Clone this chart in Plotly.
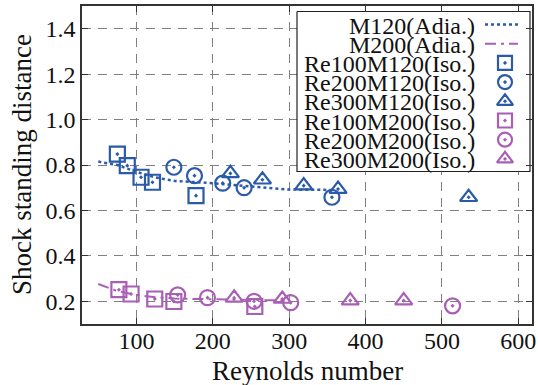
import plotly.graph_objects as go

BLUE = "#2a5aa8"
PURP = "#a95fb5"
FONT = "Liberation Serif, Times New Roman, serif"

# Adiabatic reference curves
m120_x = [50, 75, 100, 125, 150, 200, 250, 300, 360]
m120_y = [0.815, 0.80, 0.77, 0.745, 0.73, 0.72, 0.705, 0.692, 0.69]
m200_x = [50, 75, 100, 125, 150, 200, 250, 300]
m200_y = [0.276, 0.245, 0.228, 0.218, 0.212, 0.208, 0.205, 0.203]

# Isothermal cases
re100m120_x = [75, 88, 106, 121, 178]
re100m120_y = [0.848, 0.797, 0.746, 0.724, 0.665]
re200m120_x = [149, 176, 213, 241, 356]
re200m120_y = [0.79, 0.753, 0.72, 0.70, 0.658]
re300m120_x = [223, 265, 319, 364, 535]
re300m120_y = [0.763, 0.735, 0.709, 0.694, 0.658]

re100m200_x = [77, 93, 124, 149, 255]
re100m200_y = [0.251, 0.232, 0.21, 0.199, 0.177]
re200m200_x = [154, 193, 254, 302, 514]
re200m200_y = [0.228, 0.216, 0.20, 0.194, 0.18]
re300m200_x = [228, 291, 380, 450]
re300m200_y = [0.215, 0.21, 0.203, 0.203]

x_ticks = [100, 200, 300, 400, 500, 600]
y_ticks = [0.2, 0.4, 0.6, 0.8, 1.0, 1.2, 1.4]

x_title = "Reynolds number"
y_title = "Shock standing distance"
legend_names = ["M120(Adia.)", "M200(Adia.)", "Re100M120(Iso.)", "Re200M120(Iso.)",
                "Re300M120(Iso.)", "Re100M200(Iso.)", "Re200M200(Iso.)", "Re300M200(Iso.)"]

XR = [28.7, 618]
YR = [0.1, 1.5]
L, R, T, B = 82, 532, 6, 324


def px2x(p):
    return XR[0] + (p - L) * (XR[1] - XR[0]) / (R - L)


def py2y(p):
    return YR[1] - (p - T) * (YR[1] - YR[0]) / (B - T)


fig = go.Figure()

DASHDOT = "11px,5px,3px,5px"
fig.add_trace(go.Scatter(x=m120_x, y=m120_y, mode="lines",
                         line=dict(color=BLUE, width=2.5, dash="dot"), showlegend=False))
fig.add_trace(go.Scatter(x=m200_x, y=m200_y, mode="lines",
                         line=dict(color=PURP, width=2, dash=DASHDOT), showlegend=False))

series = [
    (re100m120_x, re100m120_y, "square-open-dot", BLUE),
    (re200m120_x, re200m120_y, "circle-open-dot", BLUE),
    (re300m120_x, re300m120_y, "triangle-up-open-dot", BLUE),
    (re100m200_x, re100m200_y, "square-open-dot", PURP),
    (re200m200_x, re200m200_y, "circle-open-dot", PURP),
    (re300m200_x, re300m200_y, "triangle-up-open-dot", PURP),
]
for xs, ys, sym, col in series:
    fig.add_trace(go.Scatter(x=xs, y=ys, mode="markers",
                             marker=dict(symbol=sym, size=15, color=col,
                                         line=dict(width=2.2, color=col)),
                             showlegend=False))

# Manual legend box (text right-aligned, symbols on the right)
row0, dy = 24.5, 19.2
bx0, bx1, by0, by1 = px2x(297), px2x(530), py2y(11.5), py2y(171.5)
fig.add_trace(go.Scatter(x=[bx0, bx1, bx1, bx0, bx0], y=[by0, by0, by1, by1, by0],
                         mode="lines", fill="toself", fillcolor="white",
                         line=dict(color="#222", width=1.2), showlegend=False, hoverinfo="skip"))
for i, name in enumerate(legend_names):
    yy = row0 + i * dy
    fig.add_annotation(xref="x", yref="y", x=px2x(477), y=py2y(yy + 1), text=name, showarrow=False,
                       xanchor="right", yanchor="middle",
                       font=dict(family=FONT, size=24, color="#111"))
fig.add_trace(go.Scatter(x=[px2x(485), px2x(518)], y=[py2y(row0)] * 2, mode="lines",
                         line=dict(color=BLUE, width=2.5, dash="dot"), showlegend=False))
fig.add_trace(go.Scatter(x=[px2x(485), px2x(518)], y=[py2y(row0 + dy)] * 2, mode="lines",
                         line=dict(color=PURP, width=2, dash=DASHDOT), showlegend=False))
for j, (xs, ys, sym, col) in enumerate(series):
    fig.add_trace(go.Scatter(x=[px2x(505)], y=[py2y(row0 + (j + 2) * dy)], mode="markers",
                             marker=dict(symbol=sym, size=14, color=col,
                                         line=dict(width=2.2, color=col)),
                             showlegend=False))

# Axis titles as annotations for exact placement
fig.add_annotation(xref="paper", yref="paper", x=(307 - L) / (R - L), y=-(371 - B) / (B - T),
                   text=x_title, showarrow=False, xanchor="center", yanchor="middle",
                   font=dict(family=FONT, size=27, color="#111"))
fig.add_annotation(xref="paper", yref="paper", x=-(L - 22) / (R - L), y=(B - 165) / (B - T),
                   text=y_title, showarrow=False, xanchor="center", yanchor="middle",
                   textangle=-90, font=dict(family=FONT, size=27, color="#111"))

axis_common = dict(showline=True, linecolor="#333", linewidth=1.5, mirror="ticks",
                   ticks="inside", ticklen=6, tickcolor="#333", tickwidth=1.2,
                   showgrid=True, gridcolor="#808080", griddash="9px,7px", gridwidth=1.2,
                   zeroline=False, automargin=False,
                   tickfont=dict(family=FONT, size=24, color="#111"))

fig.update_layout(
    width=538, height=385,
    margin=dict(l=L, r=538 - R, t=T, b=385 - B, autoexpand=False),
    paper_bgcolor="white", plot_bgcolor="white",
    showlegend=False,
    xaxis=dict(range=XR, tickvals=x_ticks, ticklabelstandoff=-6, **axis_common),
    yaxis=dict(range=YR, tickvals=y_ticks, tickformat=".1f", **axis_common),
)

fig.write_html("out.html", post_script="document.body.style.margin='0';",
               config={"displayModeBar": False})
